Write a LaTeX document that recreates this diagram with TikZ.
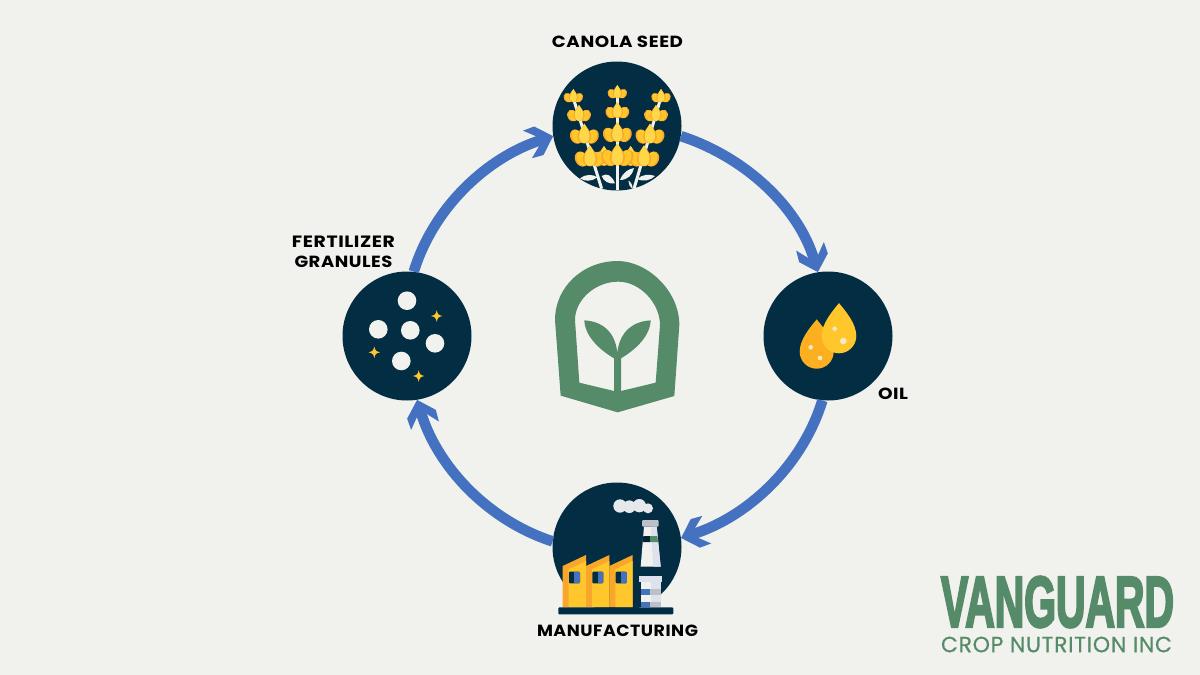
\documentclass[tikz,border=0pt]{standalone}
\usepackage{fontspec}
\usepackage{graphicx}
\usetikzlibrary{arrows.meta,positioning}
\newfontfamily\labfont[LetterSpace=3]{Poppins}
\newfontfamily\vgfont[FakeBold=4]{Liberation Sans}
\newfontfamily\cropfont[LetterSpace=3,FakeBold=.5]{Poppins}
\definecolor{bgc}{HTML}{F1F2ED}
\definecolor{navy}{HTML}{032D42}
\definecolor{flow}{HTML}{4472C0}
\definecolor{leafg}{HTML}{558B68}
\definecolor{yel}{HTML}{FFC72C}
\definecolor{lemon}{HTML}{FFD84A}
\definecolor{org}{HTML}{F9A72B}
\definecolor{amber}{HTML}{FCB020}
\definecolor{wht}{HTML}{F1F2ED}
\definecolor{pale}{HTML}{DFE2EC}
\pgfdeclarearrow{
  name=Chev,
  setup code={%
    \pgfarrowssettipend{0pt}%
    \pgfarrowssetlineend{-14pt}%
    \pgfarrowssetvisualbackend{-14pt}%
    \pgfarrowssetbackend{-27pt}%
    \pgfarrowshullpoint{0pt}{0pt}%
    \pgfarrowshullpoint{-27pt}{15pt}%
    \pgfarrowshullpoint{-27pt}{-15pt}%
  },
  drawing code={%
    \pgfsetfillcolor{flow}%
    \pgfpathmoveto{\pgfpoint{0pt}{0pt}}%
    \pgfpathlineto{\pgfpoint{-15pt}{15pt}}%
    \pgfpathlineto{\pgfpoint{-27pt}{14.5pt}}%
    \pgfpathlineto{\pgfpoint{-15pt}{4pt}}%
    \pgfpathlineto{\pgfpoint{-15pt}{-4pt}}%
    \pgfpathlineto{\pgfpoint{-27pt}{-14.5pt}}%
    \pgfpathlineto{\pgfpoint{-15pt}{-15pt}}%
    \pgfpathclose
    \pgfusepathqfill
  }
}
\tikzset{
  disc/.style={circle,fill=navy,minimum size=129pt,inner sep=0pt},
  lab/.style={font=\labfont\bfseries\fontsize{16}{20}\selectfont,text=black,align=center,inner sep=0pt},
  flowline/.style={draw=flow,line width=10.5pt,-{Chev}},
  zoomed/.style={shift={(#1)},scale=0.33333}
}
\newcommand{\caps}[2]{\resizebox{#1pt}{11.5pt}{#2}}
% flower: centre x y, size
\newcommand{\flwr}[3]{%
\begin{scope}[shift={(#1,#2)},scale=#3]
 \fill[org,shift={(-.72,.14)},rotate=28] (0,0) ellipse (.52 and .66);
 \fill[org,shift={(.72,.14)},rotate=-28] (0,0) ellipse (.52 and .66);
 \fill[yel,shift={(-.64,.14)},rotate=28] (0,0) ellipse (.44 and .62);
 \fill[yel,shift={(.64,.14)},rotate=-28] (0,0) ellipse (.44 and .62);
 \fill[org] (0,-1) .. controls (.22,-.65) and (.6,-.3) .. (.6,.15) arc (0:180:.6) .. controls (-.6,-.3) and (-.22,-.65) .. (0,-1) -- cycle;
 \fill[lemon] (0,-1) .. controls (.2,-.65) and (.46,-.3) .. (.46,.15) arc (0:180:.46 and .56) .. controls (-.46,-.3) and (-.2,-.65) .. (0,-1) -- cycle;
\end{scope}}
\newcommand{\drp}[4]{%
\fill[#4,shift={(#1,#2)},scale=#3] (0,-1.9) .. controls (.42,-1.4) and (1,-.7) .. (1,0) arc (0:180:1) .. controls (-1,-.7) and (-.42,-1.4) .. (0,-1.9) -- cycle;}
\newcommand{\sprk}[2]{%
\fill[yel,shift={(#1,#2)},scale=5.8] (0,-1) .. controls (.15,-.3) and (.3,-.15) .. (1,0) .. controls (.3,.15) and (.15,.3) .. (0,1) .. controls (-.15,.3) and (-.3,.15) .. (-1,0) .. controls (-.3,-.15) and (-.15,-.3) .. (0,-1) -- cycle;}
\newcommand{\bay}[1]{%
\begin{scope}[shift={(#1,0)}]
 \fill[org] (68,258) -- (138,225) -- (138,382) -- (68,382) -- cycle;
 \fill[yel] (86,268) -- (138,243) -- (138,382) -- (86,382) -- cycle;
 \fill[navy,rounded corners=1pt] (87,275) rectangle (120,310);
 \fill[flow] (103,275) rectangle (120,310);
\end{scope}}
\begin{document}
\begin{tikzpicture}[x=1pt,y=-1pt]
\useasboundingbox (0,0) rectangle (1200,675);
\fill[bgc] (0,0) rectangle (1200,675);

% nodes
\node[disc] (seed) at (617,126) {};
\node[disc] (oil) at (828,336) {};
\node[disc] (mfg) at (617,547) {};
\node[disc] (fert) at (407,336) {};

% connectors
\draw[flowline] (seed.-9) to[out=-18,in=107,looseness=.9] (oil.99);
\draw[flowline] (oil.-95) to[out=-107,in=18,looseness=.9] (mfg.8);
\draw[flowline] (mfg.175) to[out=162,in=-73,looseness=.9] (fert.-81);
\draw[flowline] (fert.84) to[out=73,in=-162,looseness=.9] (seed.189);

% canola
\begin{scope}[zoomed={540,70}]
 \fill[wht] (120,325) .. controls (135,312) and (160,312) .. (172,322) .. controls (155,335) and (135,335) .. (120,325) -- cycle;
 \fill[wht] (185,318) .. controls (200,308) and (215,315) .. (225,340) .. controls (205,342) and (192,335) .. (185,318) -- cycle;
 \fill[wht] (240,330) .. controls (250,305) and (265,298) .. (282,294) .. controls (278,315) and (262,330) .. (240,330) -- cycle;
 \fill[wht] (292,328) .. controls (305,312) and (330,312) .. (345,318) .. controls (332,332) and (310,335) .. (292,328) -- cycle;
 \fill[wht] (265,332) .. controls (272,335) and (278,345) .. (278,358) .. controls (270,352) and (265,342) .. (265,332) -- cycle;
 \draw[wht,line width=3.2pt] (232,68) -- (232,360);
 \draw[wht,line width=3pt] (100,85) -- (185,356);
 \draw[wht,line width=3pt] (362,85) -- (282,356);
 \flwr{192}{262}{34}\flwr{272}{262}{34}
 \flwr{150}{262}{36}\flwr{312}{262}{36}\flwr{232}{258}{38}
 \flwr{133}{195}{34}\flwr{330}{195}{34}\flwr{232}{190}{34}
 \flwr{117}{133}{28}\flwr{348}{133}{28}\flwr{232}{124}{28}
 \flwr{100}{80}{23}\flwr{363}{80}{23}\flwr{232}{68}{23}
\end{scope}

% oil
\drp{816.7}{351.7}{17}{amber}
\drp{839}{336}{17.3}{yel}
\fill[wht!80!yel] (810.7,347.3) circle (2.3) (820,358) circle (2.3) (834.7,328.7) circle (2.3) (843.3,341) circle (3.3);

% granules
\fill[wht] (407,300.7) circle (9.3) (378.3,329.3) circle (9.3) (410.3,330.3) circle (9.3) (435,343.3) circle (9.3) (401.3,361) circle (9.3);
\sprk{436.7}{316}\sprk{374.3}{352.3}\sprk{418.7}{376}

% factory
\begin{scope}[zoomed={540,480}]
 \fill[pale!60!wht] (240,78) circle (20) (268,80) circle (19) (298,77) circle (20) (324,85) circle (15);
 \bay{0}\bay{70}\bay{140}
 \fill[navy,rounded corners=1pt] (55,382) rectangle (400,403);
 % stack
 \fill[wht] (312,140) -- (350,140) -- (362,260) -- (302,260) -- cycle;
 \fill[pale] (332,140) -- (350,140) -- (362,260) -- (340,260) -- cycle;
 \fill[pale!85!black,rounded corners=1pt] (306,120) rectangle (356,140);
 \fill[navy!80!black] (310,168) -- (330,168) -- (330,186) -- (308,186) -- cycle;
 \fill[leafg] (330,168) -- (352,168) -- (354,186) -- (330,186) -- cycle;
 % lower stack
 \fill[wht] (302,305) rectangle (332,382);
 \fill[pale] (332,305) rectangle (362,382);
 \fill[pale] (297,287) rectangle (365,305);
 \fill[flow] (302,327) rectangle (330,345);
 \fill[flow] (302,365) rectangle (330,382);
 \fill[pale!85!black] (330,327) rectangle (362,345);
 \fill[pale!85!black] (330,365) rectangle (362,382);
\end{scope}

% logo
\begin{scope}[zoomed={540,250}]
 \fill[leafg,even odd rule] (233,487) -- (403,438) -- (418,225) .. controls (418,120) and (320,33) .. (233,33) .. controls (130,33) and (45,110) .. (45,210) -- (62,437) -- cycle
  (118,398) -- (222,423) -- (243,423) -- (347,398) -- (360,225) .. controls (360,160) and (300,95) .. (235,95) .. controls (165,95) and (105,150) .. (105,210) -- cycle;
 \fill[leafg] (222,430) -- (222,325) .. controls (180,300) and (135,260) .. (133,211) .. controls (200,215) and (228,260) .. (232,310) .. controls (236,260) and (265,215) .. (332,211) .. controls (330,260) and (285,300) .. (243,325) -- (243,430) -- cycle;
\end{scope}

% labels
\node[lab] (t1) at (617.5,42) {\caps{131}{CANOLA SEED}};
\node[lab,anchor=center] (t2a) at (343.5,242) {\caps{103}{FERTILIZER}};
\node[lab,anchor=center] (t2b) at (343.5,262) {\caps{98}{GRANULES}};
\node[lab] (t3) at (893,394) {\caps{30}{OIL}};
\node[lab] (t4) at (617.5,631) {\caps{161}{MANUFACTURING}};

\node[inner sep=0pt,text=leafg] (vg) at (1057.5,602) {\resizebox{233pt}{50pt}{\vgfont\bfseries VANGUARD}};
\node[inner sep=0pt,text=leafg] (crop) at (1056.5,644.5) {\resizebox{231pt}{!}{\cropfont CROP NUTRITION INC}};
\end{tikzpicture}
\end{document}
